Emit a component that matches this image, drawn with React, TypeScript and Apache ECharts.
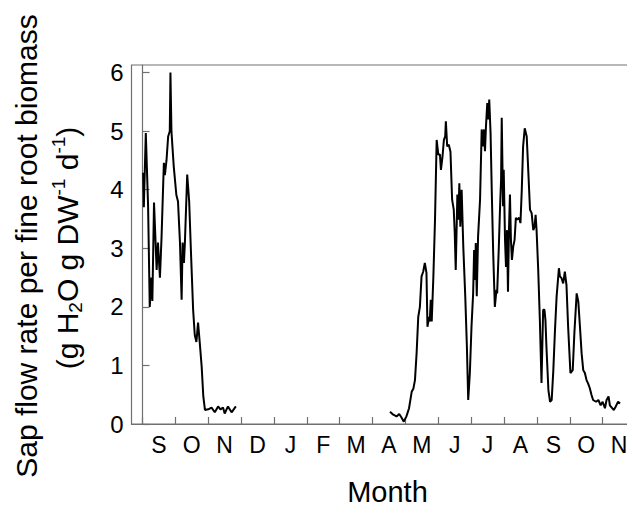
import React, { useEffect, useRef } from "react";
import * as echarts from "echarts";

// x = months elapsed since 1 September of the first year
const monthLetters = ["S", "O", "N", "D", "J", "F", "M", "A", "M", "J", "J", "A", "S", "O", "N"];
const yTicks = [0, 1, 2, 3, 4, 5, 6];

const seg1Month = [0.02, 0.04, 0.10, 0.17, 0.22, 0.27, 0.30, 0.35, 0.43, 0.47, 0.53, 0.58, 0.65, 0.68, 0.73, 0.78, 0.83, 0.85, 0.88, 0.95, 1.03, 1.08, 1.14, 1.19, 1.22, 1.26, 1.29, 1.36, 1.42, 1.47, 1.54, 1.59, 1.64, 1.69, 1.74, 1.80, 1.85, 1.90, 2.00, 2.10, 2.20, 2.30, 2.37, 2.45, 2.50, 2.60, 2.71, 2.84];
const seg1Value = [4.29, 3.70, 4.97, 3.72, 2.00, 2.50, 2.10, 3.78, 2.63, 3.10, 2.50, 3.20, 4.46, 4.25, 4.50, 4.91, 5.00, 6.00, 5.00, 4.40, 3.91, 3.80, 3.09, 2.12, 3.10, 2.75, 3.10, 4.26, 3.80, 3.00, 1.95, 1.52, 1.40, 1.73, 1.40, 0.98, 0.47, 0.24, 0.25, 0.28, 0.20, 0.30, 0.25, 0.28, 0.18, 0.30, 0.20, 0.30];

const seg2Month = [7.53, 7.63, 7.73, 7.81, 7.88, 7.95, 8.03, 8.11, 8.19, 8.24, 8.29, 8.34, 8.39, 8.44, 8.49, 8.54, 8.59, 8.64, 8.67, 8.72, 8.74, 8.77, 8.80, 8.85, 8.90, 8.95, 9.00, 9.05, 9.08, 9.13, 9.17, 9.21, 9.23, 9.27, 9.32, 9.37, 9.42, 9.47, 9.50, 9.53, 9.58, 9.61, 9.64, 9.67, 9.71, 9.76, 9.82, 9.87, 9.91, 9.96, 10.01, 10.06, 10.09, 10.12, 10.14, 10.17, 10.21, 10.27, 10.32, 10.35, 10.39, 10.42, 10.45, 10.49, 10.52, 10.55, 10.59, 10.63, 10.67, 10.72, 10.77, 10.79, 10.84, 10.88, 10.91, 10.93, 10.97, 10.99, 11.03, 11.06, 11.09, 11.12, 11.15, 11.18, 11.21, 11.24, 11.28, 11.32, 11.36, 11.40, 11.46, 11.50, 11.54, 11.58, 11.63, 11.69, 11.74, 11.79, 11.84, 11.89, 11.93, 11.96, 11.99, 12.04, 12.09, 12.14, 12.19, 12.23, 12.26, 12.29, 12.35, 12.40, 12.45, 12.50, 12.55, 12.60, 12.67, 12.70, 12.75, 12.80, 12.85, 12.90, 12.95, 13.02, 13.09, 13.14, 13.21, 13.26, 13.31, 13.36, 13.41, 13.46, 13.51, 13.56, 13.61, 13.66, 13.71, 13.80, 13.87, 13.94, 14.00, 14.07, 14.12, 14.18, 14.22, 14.29, 14.34, 14.40, 14.47, 14.53];
const seg2Value = [0.21, 0.16, 0.13, 0.17, 0.11, 0.04, 0.13, 0.27, 0.55, 0.60, 0.75, 1.21, 1.83, 2.00, 2.52, 2.60, 2.75, 2.58, 1.66, 1.83, 1.75, 2.12, 1.75, 2.52, 3.49, 4.85, 4.60, 4.60, 4.34, 4.58, 4.85, 4.91, 5.17, 4.74, 4.77, 4.65, 3.83, 3.66, 3.26, 2.63, 3.92, 3.49, 4.11, 3.37, 4.00, 3.03, 2.18, 1.32, 0.41, 0.87, 1.66, 2.23, 2.97, 2.46, 3.09, 2.18, 3.20, 3.83, 5.03, 4.74, 5.03, 4.66, 5.08, 5.48, 5.20, 5.54, 4.97, 3.89, 2.92, 2.00, 2.29, 2.23, 3.00, 3.72, 4.17, 5.23, 3.72, 4.34, 3.14, 2.68, 3.31, 2.26, 3.31, 3.92, 3.14, 2.80, 3.03, 3.14, 3.52, 3.49, 3.52, 3.43, 4.00, 4.74, 5.05, 4.91, 4.29, 3.66, 3.60, 3.31, 3.37, 3.57, 3.31, 2.63, 1.77, 0.70, 1.95, 1.95, 1.77, 1.32, 0.58, 0.38, 0.41, 0.92, 1.60, 2.18, 2.66, 2.52, 2.49, 2.40, 2.60, 2.37, 1.66, 0.87, 0.92, 1.55, 2.23, 2.09, 1.66, 1.21, 0.92, 0.87, 0.75, 0.69, 0.61, 0.50, 0.41, 0.38, 0.41, 0.32, 0.38, 0.27, 0.41, 0.47, 0.32, 0.27, 0.24, 0.30, 0.38, 0.35];

const FONT = "'Liberation Sans', Arial, sans-serif";

export default function App() {
  const ref = useRef<HTMLDivElement>(null);
  useEffect(() => {
    if (!ref.current) return;
    const chart = echarts.init(ref.current, undefined, { renderer: "svg" });
    const axisGray = "#707070";
    chart.setOption({
      animation: false,
      backgroundColor: "#ffffff",
      grid: {
        left: 131.5,
        top: 65,
        width: 504,
        height: 359,
        show: true,
        borderColor: axisGray,
        borderWidth: 1.2,
        containLabel: false,
        outerBoundsMode: "none",
      },
      xAxis: {
        type: "value",
        min: -0.335,
        max: 15,
        splitLine: { show: false },
        axisLine: { show: true, lineStyle: { color: axisGray, width: 1.2 } },
        axisTick: {
          show: true,
          inside: true,
          length: 7,
          customValues: monthLetters.map((_, i) => i).concat([15]),
          lineStyle: { color: axisGray, width: 1.2 },
        },
        axisLabel: {
          show: true,
          customValues: monthLetters.map((_, i) => i + 0.5),
          formatter: (v: number) => monthLetters[Math.floor(v)] ?? "",
          fontSize: 23,
          fontFamily: FONT,
          color: "#000",
          margin: 9,
        },
      },
      yAxis: {
        type: "value",
        min: 0,
        max: 6.13,
        splitLine: { show: false },
        axisLine: { show: true, lineStyle: { color: axisGray, width: 1.2 } },
        axisTick: {
          show: true,
          inside: true,
          length: 7,
          customValues: yTicks,
          lineStyle: { color: axisGray, width: 1.2 },
        },
        axisLabel: {
          show: true,
          customValues: yTicks,
          fontSize: 24,
          fontFamily: FONT,
          color: "#000",
          margin: 8,
        },
      },
      series: [
        {
          type: "line",
          data: seg1Month.map((m, i) => [m, seg1Value[i]]),
          showSymbol: false,
          lineStyle: { color: "#000", width: 2 },
          silent: true,
        },
        {
          type: "line",
          data: seg2Month.map((m, i) => [m, seg2Value[i]]),
          showSymbol: false,
          lineStyle: { color: "#000", width: 2 },
          silent: true,
        },
      ],
      graphic: [
        {
          type: "text",
          x: 26.5,
          y: 246,
          rotation: Math.PI / 2,
          style: {
            text: "Sap flow rate per fine root biomass",
            fontSize: 30,
            fontFamily: FONT,
            fill: "#000",
            align: "center",
            verticalAlign: "middle",
            textAlign: "center",
            textVerticalAlign: "middle",
          },
        },
        {
          type: "text",
          x: 67,
          y: 248,
          rotation: Math.PI / 2,
          style: {
            text: "(g H{sub|2}O g DW{sup|-1} d{sup|-1})",
            fontSize: 30,
            lineHeight: 36,
            fontFamily: FONT,
            fill: "#000",
            align: "center",
            verticalAlign: "middle",
            textAlign: "center",
            textVerticalAlign: "middle",
            rich: {
              sub: { fontSize: 19, lineHeight: 18, verticalAlign: "bottom", fontFamily: FONT, fill: "#000" },
              sup: { fontSize: 19, lineHeight: 18, verticalAlign: "top", fontFamily: FONT, fill: "#000" },
            },
          },
        },
        {
          type: "text",
          x: 387.5,
          y: 491.5,
          style: {
            text: "Month",
            fontSize: 29,
            fontFamily: FONT,
            fill: "#000",
            align: "center",
            verticalAlign: "middle",
            textAlign: "center",
            textVerticalAlign: "middle",
          },
        },
      ],
    });
    return () => chart.dispose();
  }, []);
  return (
    <div
      ref={ref}
      style={{ position: "fixed", left: 0, top: 0, width: 627, height: 506, background: "#fff" }}
    />
  );
}
